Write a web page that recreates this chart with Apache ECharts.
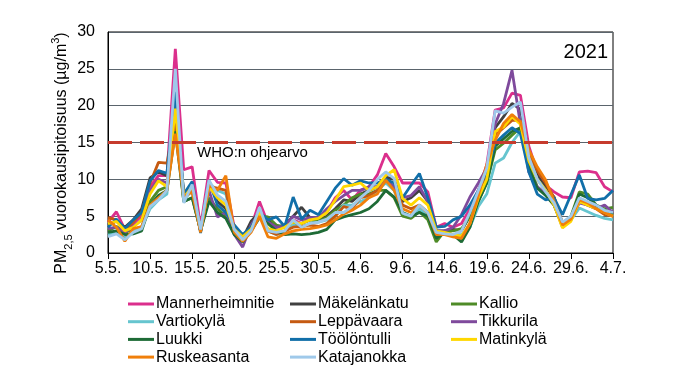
<!DOCTYPE html>
<html><head><meta charset="utf-8">
<script src="https://cdn.jsdelivr.net/npm/echarts@6/dist/echarts.min.js"></script>
<style>html,body{margin:0;padding:0;background:#fff}#c{width:688px;height:391px}</style>
</head><body><div id="c"></div>
<script>
const dates = ['5.5.','6.5.','7.5.','8.5.','9.5.','10.5.','11.5.','12.5.','13.5.','14.5.','15.5.','16.5.','17.5.','18.5.','19.5.','20.5.','21.5.','22.5.','23.5.','24.5.','25.5.','26.5.','27.5.','28.5.','29.5.','30.5.','31.5.',
'1.6.','2.6.','3.6.','4.6.','5.6.','6.6.','7.6.','8.6.','9.6.','10.6.','11.6.','12.6.','13.6.','14.6.','15.6.','16.6.','17.6.','18.6.','19.6.','20.6.','21.6.','22.6.','23.6.','24.6.','25.6.','26.6.','27.6.','28.6.','29.6.','30.6.',
'1.7.','2.7.','3.7.','4.7.'];

const mannerheimintie = [4.2,5.6,3.2,4.0,5.0,9.0,10.5,10.5,27.7,11.3,11.7,3.5,11.2,9.6,9.5,3.5,2.2,3.5,7.0,4.0,3.5,3.5,4.5,4.0,4.5,4.8,5.5,7.5,8.5,7.2,8.5,9.0,10.6,13.5,11.7,9.5,9.5,9.5,8.3,3.5,4.0,3.5,4.0,6.0,8.5,12.0,19.4,19.7,21.7,21.4,14.5,11.0,9.2,8.3,7.6,7.5,11.0,11.1,10.9,9.0,8.3];
const makelankatu = [3.8,4.3,3.5,4.5,6.0,10.2,11.0,10.5,21.0,8.0,9.0,3.2,9.5,7.0,6.0,3.5,2.0,4.3,5.5,4.5,3.5,3.8,5.0,6.2,4.8,4.5,5.0,6.0,7.2,7.0,8.0,8.5,9.0,10.3,10.0,7.0,7.5,8.5,7.0,3.0,3.0,3.2,3.0,5.0,7.5,10.5,17.0,18.5,20.3,19.5,13.5,10.5,9.0,7.6,4.0,4.8,7.0,6.8,6.2,5.5,5.5];
const kallio = [3.0,3.6,2.8,3.2,3.5,7.0,8.5,9.0,17.5,7.0,7.5,3.0,7.5,6.0,5.0,3.0,1.8,3.5,5.0,4.9,3.8,3.5,4.0,4.0,4.5,4.3,4.8,5.8,6.5,7.5,8.0,8.0,8.5,8.5,7.5,5.0,4.7,5.6,4.5,1.5,3.0,3.0,3.3,5.0,7.0,9.5,14.0,14.9,16.0,17.0,12.0,9.0,8.0,7.0,3.8,5.0,8.3,8.0,6.5,6.0,6.2];
const vartiokyla = [2.5,2.8,2.0,3.0,3.4,6.0,7.2,8.0,19.5,7.2,8.5,3.0,9.5,8.5,8.0,3.2,2.0,3.0,5.5,3.0,2.5,2.8,3.8,3.5,4.0,4.2,4.5,5.0,6.5,6.5,7.0,7.5,8.5,9.5,8.5,5.5,5.0,6.0,5.0,2.5,2.5,2.5,2.5,3.5,6.3,8.0,12.2,12.9,15.0,16.5,13.0,10.0,8.5,6.5,3.8,4.5,6.1,5.6,5.1,4.7,4.5];
const leppavaara = [4.8,4.5,3.0,4.2,5.5,9.5,12.3,12.2,18.0,8.0,8.5,3.0,9.0,8.8,8.5,3.0,1.6,3.0,5.0,3.0,2.5,3.0,3.5,3.6,3.8,3.6,4.0,5.0,6.3,6.0,7.5,7.8,8.5,9.8,9.0,6.5,6.0,6.5,5.5,2.5,2.6,2.5,2.0,4.0,7.5,11.0,16.0,17.0,18.0,18.0,13.5,11.2,9.5,7.5,4.0,4.8,7.0,6.5,6.0,5.2,5.0];
const tikkurila = [3.3,3.5,2.8,3.6,4.5,8.5,10.0,9.5,20.5,7.5,8.5,3.0,8.5,4.9,5.5,2.5,0.8,3.8,5.5,4.2,3.5,3.6,5.0,4.5,4.8,4.8,6.0,7.0,7.8,8.5,8.5,9.0,9.0,10.0,9.0,7.5,7.8,9.0,7.0,3.0,3.0,3.5,5.2,7.6,9.5,11.5,17.5,20.3,24.8,17.5,11.0,9.0,8.0,6.5,3.5,4.5,6.8,6.5,6.0,6.5,5.5];
const luukki = [2.8,3.0,2.5,2.6,3.0,6.5,7.8,8.5,16.5,7.0,7.5,3.0,7.0,5.5,4.7,2.5,1.5,3.0,4.8,4.0,3.0,2.5,2.6,2.5,2.6,2.8,3.2,4.5,4.9,5.2,5.5,6.0,7.0,8.5,7.6,5.5,5.0,5.5,5.0,2.0,2.8,2.5,1.5,3.5,7.0,9.5,14.5,15.5,16.5,17.0,11.5,8.8,7.8,6.5,3.8,4.8,8.0,7.5,6.5,5.5,5.2];
const toolontulli = [3.5,4.6,3.3,4.5,5.5,9.8,11.2,10.8,21.9,8.0,9.7,2.7,9.8,6.5,5.5,3.8,2.5,3.5,5.5,4.5,4.9,3.6,7.6,4.6,5.8,5.2,7.0,8.8,10.1,9.2,9.8,9.5,9.5,10.0,9.5,7.5,9.2,10.8,7.5,3.5,3.6,4.5,5.0,6.5,8.5,11.0,14.9,16.0,17.0,16.2,11.0,8.0,7.2,7.5,5.2,7.9,10.6,7.4,7.2,7.4,8.5];
const matinkyla = [4.0,4.3,3.0,3.5,4.5,8.0,9.8,9.0,19.6,7.5,9.0,3.1,9.0,7.5,6.5,3.2,2.2,3.2,5.5,3.3,3.0,3.5,4.2,4.0,4.5,4.7,5.5,7.2,9.0,9.2,9.5,8.5,9.0,10.5,11.3,7.4,6.5,7.5,6.5,3.0,2.8,2.5,2.3,4.0,7.5,10.0,16.5,17.1,18.5,17.5,12.5,10.0,8.5,6.5,3.4,4.3,7.0,6.5,6.0,5.5,5.0];
const ruskeasanta = [4.5,3.5,1.6,3.3,3.6,6.5,7.5,8.5,16.2,7.6,8.3,2.8,9.2,8.5,10.5,2.8,1.6,2.8,5.0,2.2,2.0,2.6,3.0,3.2,3.3,3.5,3.8,4.5,5.3,5.8,6.5,7.5,8.0,9.9,8.5,6.0,5.5,6.5,5.5,2.5,2.5,2.2,2.0,4.0,7.8,12.0,15.3,17.6,18.8,17.8,14.0,11.7,9.9,7.0,3.8,4.6,7.2,6.8,6.0,5.5,5.0];
const katajanokka = [2.2,2.6,1.8,2.8,3.3,6.3,7.2,8.5,25.0,6.8,9.3,3.2,9.9,7.9,7.0,3.2,1.8,3.0,6.2,3.0,2.8,3.0,4.5,3.5,4.0,4.2,4.6,5.5,5.5,6.3,7.5,8.5,10.0,11.0,10.1,5.4,5.0,6.5,5.5,2.8,2.6,2.5,3.0,5.5,8.5,11.5,19.3,19.0,19.8,20.5,13.0,10.0,8.3,6.8,4.2,5.0,7.5,7.0,6.5,5.8,5.5];

const whoLimit = 15;
const yTicks = [0,5,10,15,20,25,30];

const FONT = '"Liberation Sans", Arial, sans-serif';
const seriesDefs = [
  ['Mannerheimnitie', mannerheimintie, '#db2f8c'],
  ['Mäkelänkatu', makelankatu, '#404040'],
  ['Kallio', kallio, '#4e8b27'],
  ['Vartiokylä', vartiokyla, '#66c5cf'],
  ['Leppävaara', leppavaara, '#c55a11'],
  ['Tikkurila', tikkurila, '#7f4a9c'],
  ['Luukki', luukki, '#1e6b36'],
  ['Töölöntulli', toolontulli, '#116fa9'],
  ['Matinkylä', matinkyla, '#ffd700'],
  ['Ruskeasanta', ruskeasanta, '#f07f0a'],
  ['Katajanokka', katajanokka, '#9fc9ea']
];

const series = seriesDefs.map(([name, data, color], i) => {
  const s = {
    name, type: 'line', data, symbol: 'none', showSymbol: false,
    lineStyle: { color, width: 2.8 }, itemStyle: { color },
    emphasis: { disabled: true }, animation: false, z: 2
  };
  if (i === seriesDefs.length - 1) {
    s.markLine = {
      silent: true, symbol: 'none', animation: false,
      label: { show: false },
      lineStyle: { color: '#c63b2d', width: 3, type: [24, 8] },
      data: [{ yAxis: whoLimit }]
    };
  }
  return s;
});

function legendCol(left, names) {
  return {
    orient: 'vertical', left, top: 291, itemWidth: 26, itemHeight: 14, itemGap: 1.7,
    icon: 'path://M0,5 L26,5 L26,8 L0,8 Z',
    textStyle: { fontFamily: FONT, fontSize: 16, color: '#000', padding: [0,0,0,-3] },
    data: names, selectedMode: false
  };
}

const chart = echarts.init(document.getElementById('c'), null, { renderer: 'canvas' });
chart.setOption({
  animation: false,
  grid: { left: 108, right: 75, top: 32, bottom: 138, show: true, borderColor: '#000', borderWidth: 1, backgroundColor: 'transparent' },
  xAxis: {
    type: 'category', data: dates, boundaryGap: false,
    axisLine: { lineStyle: { color: '#000', width: 1 } },
    axisTick: { show: true, interval: (i) => i % 5 === 0, length: 6, lineStyle: { color: '#000' } },
    axisLabel: { interval: (i) => i % 5 === 0, fontFamily: FONT, fontSize: 16, color: '#000', margin: 8 },
    splitLine: { show: false }
  },
  yAxis: {
    type: 'value', min: yTicks[0], max: yTicks[yTicks.length - 1], interval: 5,
    axisLine: { show: true, lineStyle: { color: '#000', width: 1 } },
    axisTick: { show: false },
    axisLabel: { fontFamily: FONT, fontSize: 16, color: '#000', margin: 13 },
    splitLine: { lineStyle: { color: '#5a646c', width: 1 } }
  },
  legend: [
    legendCol(123, ['Mannerheimnitie', 'Vartiokylä', 'Luukki', 'Ruskeasanta']),
    legendCol(285, ['Mäkelänkatu', 'Leppävaara', 'Töölöntulli', 'Katajanokka']),
    legendCol(446, ['Kallio', 'Tikkurila', 'Matinkylä'])
  ],
  graphic: [
    { type: 'text', x: 608, y: 52, z: 10, style: { text: '2021', fontFamily: FONT, fontSize: 20, fill: '#000', align: 'right', verticalAlign: 'middle' } },
    { type: 'text', x: 197, y: 153, z: 10, style: { text: 'WHO:n ohjearvo', fontFamily: FONT, fontSize: 15, fill: '#000', align: 'left', verticalAlign: 'middle' } },
    { type: 'text', x: 62, y: 153, rotation: Math.PI / 2, z: 10,
      style: {
        text: '{a|PM}{s|2,5}{a| vuorokausipitoisuus (µg/m}{p|3}{a|)}',
        align: 'center', verticalAlign: 'middle', fontFamily: FONT, fontSize: 16, fill: '#000',
        rich: {
          a: { fontFamily: FONT, fontSize: 16, fill: '#000', lineHeight: 24, verticalAlign: 'middle' },
          s: { fontFamily: FONT, fontSize: 11, fill: '#000', lineHeight: 11, verticalAlign: 'bottom' },
          p: { fontFamily: FONT, fontSize: 11, fill: '#000', lineHeight: 11, verticalAlign: 'top' }
        }
      } }
  ],
  series
});
</script></body></html>
